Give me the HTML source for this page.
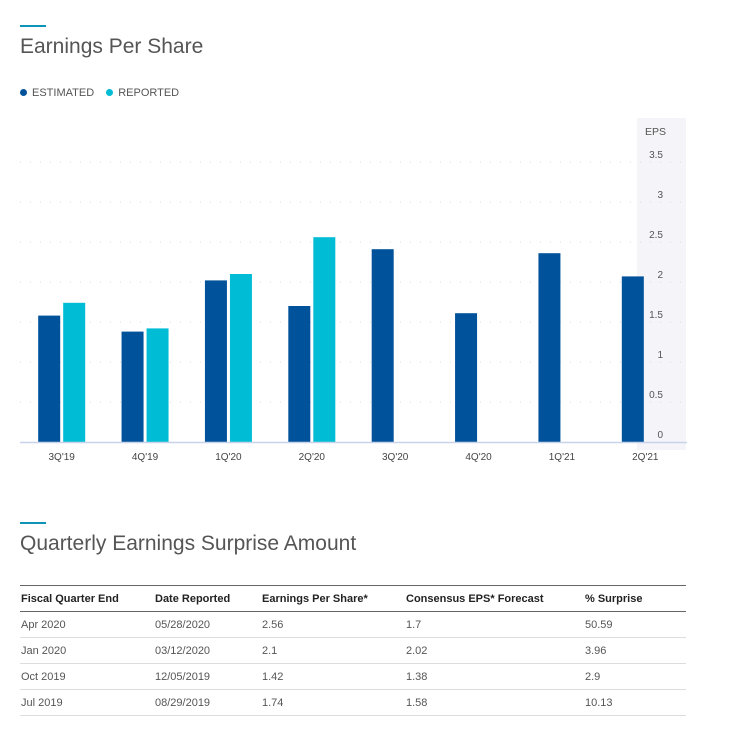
<!DOCTYPE html>
<html><head><meta charset="utf-8"><style>
body{margin:0;width:733px;height:730px;background:#fff;font-family:"Liberation Sans",sans-serif;color:#333;position:relative;overflow:hidden}
.abs{position:absolute}
.accent{position:absolute;left:20px;width:26px;height:2px;background:#0d94b6}
.title{position:absolute;left:20px;font-size:21px;font-weight:300;color:#555;letter-spacing:0}
table{position:absolute;left:20px;top:585px;width:666px;border-collapse:collapse;font-size:11px}
th{text-align:left;font-weight:bold;height:25px;border-top:1px solid #666;border-bottom:1px solid #666;padding:0 0 0 1px;color:#222}
td{height:25px;border-bottom:1px solid #ddd;padding:0 0 0 1px;color:#555}
</style></head><body>
<div class="accent" style="top:25px"></div>
<div class="title" style="top:35px">Earnings Per Share</div>
<div class="abs" style="top:87px;left:20px;font-size:11px;color:#555">
<span><span style="display:inline-block;width:7px;height:7px;border-radius:50%;background:#00529b;margin-right:5px"></span>ESTIMATED</span>
<span style="margin-left:9px"><span style="display:inline-block;width:7px;height:7px;border-radius:50%;background:#00bcd4;margin-right:5px"></span>REPORTED</span>
</div>
<svg class="abs" style="left:0;top:0" width="733" height="480" id="chart"></svg>
<div class="accent" style="top:522px"></div>
<div class="title" style="top:532px">Quarterly Earnings Surprise Amount</div>
<table>
<tr><th style="width:133px">Fiscal Quarter End</th><th style="width:106px">Date Reported</th><th style="width:143px">Earnings Per Share*</th><th style="width:178px">Consensus EPS* Forecast</th><th>% Surprise</th></tr>
<tr><td>Apr 2020</td><td>05/28/2020</td><td>2.56</td><td>1.7</td><td>50.59</td></tr>
<tr><td>Jan 2020</td><td>03/12/2020</td><td>2.1</td><td>2.02</td><td>3.96</td></tr>
<tr><td>Oct 2019</td><td>12/05/2019</td><td>1.42</td><td>1.38</td><td>2.9</td></tr>
<tr><td>Jul 2019</td><td>08/29/2019</td><td>1.74</td><td>1.58</td><td>10.13</td></tr>
</table>
<script>
const categories=["3Q'19","4Q'19","1Q'20","2Q'20","3Q'20","4Q'20","1Q'21","2Q'21"];
const estimated=[1.58,1.38,2.02,1.7,2.41,1.61,2.36,2.07];
const reported=[1.74,1.42,2.1,2.56,null,null,null,null];
const yTicks=[0,0.5,1,1.5,2,2.5,3,3.5];
const NS="http://www.w3.org/2000/svg";
const svg=document.getElementById('chart');
const x0=20,x1=687,y0=442,pxPerUnit=80;
const cw=(x1-x0)/categories.length;
const y=v=>y0-v*pxPerUnit;
const xc=i=>x0+cw*(i+0.5);
function mk(t,a){const e=document.createElementNS(NS,t);for(const k in a)e.setAttribute(k,a[k]);svg.appendChild(e);return e;}
const band=mk('rect',{x:637,y:118,width:49,height:332,fill:'#f4f4f9'});


const et=mk('text',{x:645,y:135,'font-size':10.5,fill:'#555'});et.textContent='EPS';


yTicks.forEach(v=>{
 if(v>0){const g=mk('line',{x1:x0,x2:x1,y1:y(v),y2:y(v),stroke:'#ddd','stroke-dasharray':'1 9'});
 
 }
 const t=mk('text',{x:663,y:y(v)-4,'font-size':10,fill:'#555','text-anchor':'end'});t.textContent=String(v);
 
 
});
categories.forEach((c,i)=>{
 const ex=xc(i)-23.5;
 const b=mk('rect',{x:ex,y:y(estimated[i]),width:22,height:estimated[i]*pxPerUnit,fill:'#00529b'});
 
 
 if(reported[i]!=null){
  const r=mk('rect',{x:ex+25,y:y(reported[i]),width:22,height:reported[i]*pxPerUnit,fill:'#00bcd4'});
  
  
 }
 const t=mk('text',{x:xc(i),y:460,'font-size':10,fill:'#444','text-anchor':'middle'});t.textContent=c;
 
 
});
const ax=mk('line',{x1:x0,x2:x1,y1:y0+0.5,y2:y0+0.5,stroke:'#c8d3ea','stroke-width':1.5});


</script>
</body></html>
